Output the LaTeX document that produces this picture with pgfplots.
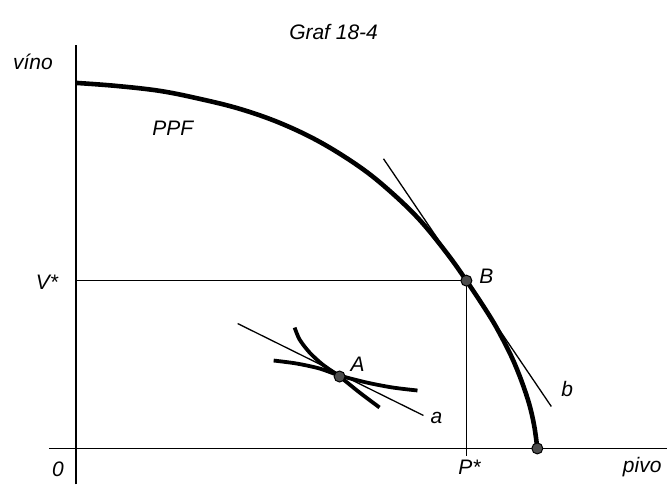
\documentclass[border=0pt]{standalone}
\usepackage{fontspec}
\setmainfont{Liberation Sans}
\usepackage{pgfplots}
\pgfplotsset{compat=1.18}
\tikzset{lab/.style={font=\fontsize{21}{25}\selectfont\itshape,inner sep=0pt}}
\begin{document}
\begin{tikzpicture}
\begin{axis}[x=1pt,y=1pt,xmin=-76,xmax=592,ymin=-36,ymax=449,
  hide axis,clip=false]
% bounding box
\path (axis cs:-76,-36) rectangle (axis cs:592,449);
% axes
\addplot[black,line width=1.7pt] coordinates {(0,-36) (0,404)};
\addplot[black,line width=1.7pt] coordinates {(-27,0) (592,0)};
% V* and P* guide lines
\addplot[black,line width=0.9pt] coordinates {(0,168) (391,168)};
\addplot[black,line width=0.9pt] coordinates {(391,168) (391,-8)};
% PPF
\addplot[black,line width=4.6pt,smooth,tension=0.6] coordinates {
(0,366) (40,363) (84,358) (124,350) (164,340) (204,326) (244,307)
(284,282) (314,258) (344,229) (371,196) (391,168) (414,133)
(426,112) (437,90) (446,68) (454,44) (459,22) (462,0)};
% tangent b
\addplot[black,line width=1.3pt] coordinates {(308,290) (476,42)};
% tangent a
\addplot[black,line width=1.3pt] coordinates {(162,125) (348,33)};
% curves at A
\addplot[black,line width=3.8pt,smooth] coordinates {
(198,88) (221,85) (244,80) (264,73) (291,66) (317,61) (342,58)};
\addplot[black,line width=3.8pt,smooth] coordinates {
(219,121) (224,109) (234,96) (247,84) (264,72) (284,56) (304,41)};
% points
\addplot[only marks,mark=*,mark size=5.5pt,mark options={fill=black!70,draw=black,line width=1pt}]
 coordinates {(264,72) (391,168) (462,0)};
% labels
\node[lab] at (axis cs:258,417) {Graf 18-4};
\node[lab] at (axis cs:-43,387) {víno};
\node[lab] at (axis cs:97,321) {PPF};
\node[lab] at (axis cs:-29,166) {V*};
\node[lab] at (axis cs:411,172) {B};
\node[lab] at (axis cs:282,84) {A};
\node[lab] at (axis cs:361,31) {a};
\node[lab] at (axis cs:492,59) {b};
\node[lab] at (axis cs:-18,-21) {0};
\node[lab] at (axis cs:394,-19) {P*};
\node[lab] at (axis cs:567,-19) {pivo};
\end{axis}
\end{tikzpicture}
\end{document}
